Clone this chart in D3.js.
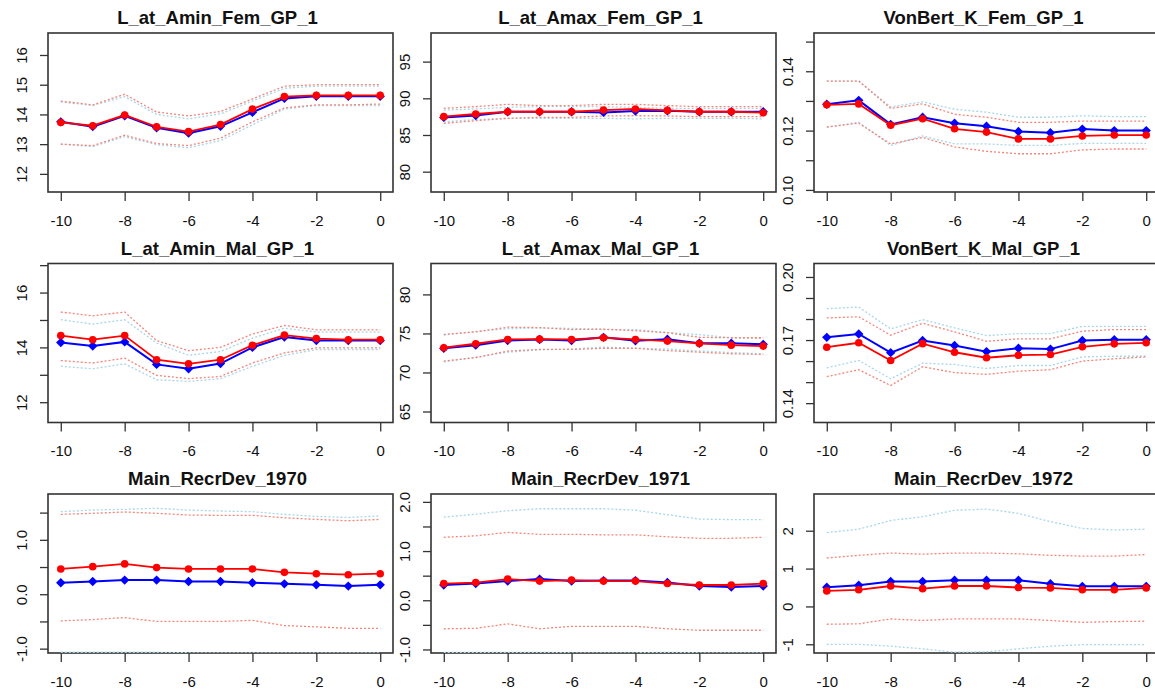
<!DOCTYPE html>
<html lang="en">
<head>
  <meta charset="utf-8">
  <title>Retrospective parameter estimates</title>
  <script src="https://cdn.jsdelivr.net/npm/d3@7"></script>
  <style>
    body { margin: 0; background: #fff; }
    text { font-family: "Liberation Sans", Arial, sans-serif; fill: #111; }
  </style>
</head>
<body>
  <div id="chart"></div>
  <script>
    // peel (years back) on the x axis
    var years = [-10, -9, -8, -7, -6, -5, -4, -3, -2, -1, 0];
    var xTicks = [-10, -8, -6, -4, -2, 0];
    var xTickLabels = ["-10", "-8", "-6", "-4", "-2", "0"];

    // L_at_Amin_Fem_GP_1
    var aminFemRed    = [13.73, 13.62, 13.98, 13.58, 13.42, 13.66, 14.18, 14.60, 14.64, 14.64, 14.64];
    var aminFemBlue   = [13.75, 13.59, 13.95, 13.55, 13.37, 13.60, 14.07, 14.54, 14.61, 14.61, 14.61];
    var aminFemRedHi  = [14.45, 14.32, 14.68, 14.08, 13.95, 14.10, 14.52, 14.95, 15.00, 15.00, 15.00];
    var aminFemRedLo  = [13.00, 12.95, 13.30, 13.02, 12.95, 13.20, 13.75, 14.22, 14.32, 14.32, 14.35];
    var aminFemBlueHi = [14.42, 14.30, 14.60, 14.00, 13.85, 14.02, 14.45, 14.88, 14.95, 14.95, 14.95];
    var aminFemBlueLo = [13.00, 12.92, 13.25, 12.98, 12.88, 13.12, 13.65, 14.18, 14.30, 14.30, 14.30];
    var aminFemTicks  = [12, 13, 14, 15, 16];
    var aminFemLabels = ["12", "13", "14", "15", "16"];

    // L_at_Amax_Fem_GP_1
    var amaxFemRed    = [87.50, 87.86, 88.17, 88.17, 88.17, 88.40, 88.54, 88.35, 88.17, 88.17, 88.04];
    var amaxFemBlue   = [87.40, 87.65, 88.17, 88.17, 88.17, 88.08, 88.26, 88.30, 88.17, 88.17, 88.17];
    var amaxFemRedHi  = [88.64, 88.86, 89.18, 89.00, 89.00, 89.18, 89.18, 89.00, 88.86, 88.86, 88.86];
    var amaxFemRedLo  = [86.59, 86.95, 87.27, 87.40, 87.40, 87.59, 87.63, 87.59, 87.50, 87.50, 87.50];
    var amaxFemBlueHi = [88.40, 88.54, 88.77, 88.86, 88.86, 88.86, 88.77, 88.63, 88.63, 88.63, 88.63];
    var amaxFemBlueLo = [86.80, 87.10, 87.27, 87.27, 87.27, 87.27, 87.20, 87.27, 87.27, 87.27, 87.20];
    var amaxFemTicks  = [80, 85, 90, 95];
    var amaxFemLabels = ["80", "85", "90", "95"];

    // VonBert_K_Fem_GP_1
    var vbFemRed    = [0.1287, 0.1290, 0.1218, 0.1240, 0.1206, 0.1195, 0.1172, 0.1172, 0.1182, 0.1185, 0.1185];
    var vbFemBlue   = [0.1289, 0.1302, 0.1221, 0.1245, 0.1225, 0.1215, 0.1197, 0.1193, 0.1205, 0.1200, 0.1200];
    var vbFemRedHi  = [0.1367, 0.1367, 0.1275, 0.1290, 0.1255, 0.1245, 0.1228, 0.1228, 0.1232, 0.1232, 0.1232];
    var vbFemRedLo  = [0.1212, 0.1225, 0.1155, 0.1177, 0.1145, 0.1130, 0.1122, 0.1122, 0.1135, 0.1138, 0.1138];
    var vbFemBlueHi = [0.1367, 0.1367, 0.1280, 0.1297, 0.1272, 0.1262, 0.1245, 0.1245, 0.1250, 0.1247, 0.1247];
    var vbFemBlueLo = [0.1212, 0.1228, 0.1150, 0.1182, 0.1155, 0.1155, 0.1150, 0.1150, 0.1157, 0.1157, 0.1157];
    var vbFemTicks  = [0.10, 0.11, 0.12, 0.13, 0.14, 0.15];
    var vbFemLabels = ["0.10", "", "0.12", "", "0.14", ""];

    // L_at_Amin_Mal_GP_1
    var aminMalRed    = [14.43, 14.28, 14.43, 13.55, 13.40, 13.55, 14.08, 14.45, 14.32, 14.28, 14.28];
    var aminMalBlue   = [14.18, 14.05, 14.20, 13.38, 13.22, 13.41, 14.00, 14.38, 14.25, 14.25, 14.25];
    var aminMalRedHi  = [15.29, 15.15, 15.29, 14.25, 13.88, 14.00, 14.49, 14.80, 14.64, 14.64, 14.64];
    var aminMalRedLo  = [13.52, 13.43, 13.61, 12.98, 12.86, 12.94, 13.43, 13.80, 13.98, 13.98, 13.98];
    var aminMalBlueHi = [15.01, 14.85, 15.01, 14.16, 13.71, 13.85, 14.34, 14.70, 14.56, 14.56, 14.56];
    var aminMalBlueLo = [13.31, 13.22, 13.40, 12.82, 12.76, 12.86, 13.31, 13.71, 13.92, 13.92, 13.92];
    var aminMalTicks  = [12, 13, 14, 15, 16, 17];
    var aminMalLabels = ["12", "", "14", "", "16", ""];

    // L_at_Amax_Mal_GP_1
    var amaxMalRed    = [73.17, 73.68, 74.23, 74.27, 74.23, 74.45, 74.23, 74.02, 73.72, 73.50, 73.38];
    var amaxMalBlue   = [73.10, 73.50, 74.10, 74.23, 74.10, 74.50, 74.05, 74.25, 73.75, 73.75, 73.60];
    var amaxMalRedHi  = [74.87, 75.20, 75.80, 75.75, 75.50, 75.55, 75.35, 75.10, 74.50, 74.45, 74.45];
    var amaxMalRedLo  = [71.46, 71.90, 72.74, 72.95, 72.95, 73.10, 73.10, 72.80, 72.60, 72.40, 72.30];
    var amaxMalBlueHi = [74.80, 75.25, 75.60, 75.70, 75.65, 75.50, 75.50, 75.10, 74.85, 74.45, 74.35];
    var amaxMalBlueLo = [71.35, 71.95, 72.60, 72.90, 73.00, 73.25, 73.10, 73.00, 72.75, 72.55, 72.40];
    var amaxMalTicks  = [65, 70, 75, 80];
    var amaxMalLabels = ["65", "70", "75", "80"];

    // VonBert_K_Mal_GP_1
    var vbMalRed    = [0.1666, 0.1687, 0.1603, 0.1683, 0.1642, 0.1616, 0.1628, 0.1631, 0.1668, 0.1682, 0.1687];
    var vbMalBlue   = [0.1713, 0.1729, 0.1640, 0.1698, 0.1674, 0.1645, 0.1661, 0.1657, 0.1698, 0.1702, 0.1702];
    var vbMalRedHi  = [0.1805, 0.1811, 0.1723, 0.1780, 0.1739, 0.1694, 0.1706, 0.1706, 0.1742, 0.1750, 0.1750];
    var vbMalRedLo  = [0.1526, 0.1559, 0.1484, 0.1573, 0.1545, 0.1537, 0.1552, 0.1559, 0.1600, 0.1611, 0.1620];
    var vbMalBlueHi = [0.1849, 0.1857, 0.1753, 0.1797, 0.1758, 0.1721, 0.1731, 0.1731, 0.1765, 0.1765, 0.1765];
    var vbMalBlueLo = [0.1568, 0.1603, 0.1516, 0.1590, 0.1584, 0.1565, 0.1579, 0.1579, 0.1620, 0.1623, 0.1623];
    var vbMalTicks  = [0.14, 0.15, 0.16, 0.17, 0.18, 0.19, 0.20];
    var vbMalLabels = ["0.14", "", "", "0.17", "", "", "0.20"];

    // Main_RecrDev_1970
    var rec70Red    = [0.465, 0.507, 0.557, 0.489, 0.465, 0.465, 0.465, 0.402, 0.377, 0.359, 0.377];
    var rec70Blue   = [0.210, 0.234, 0.260, 0.260, 0.234, 0.234, 0.210, 0.191, 0.173, 0.149, 0.173];
    var rec70RedHi  = [1.468, 1.487, 1.511, 1.487, 1.455, 1.450, 1.450, 1.405, 1.375, 1.350, 1.375];
    var rec70RedLo  = [-0.490, -0.465, -0.430, -0.500, -0.500, -0.500, -0.480, -0.576, -0.600, -0.626, -0.626];
    var rec70BlueHi = [1.517, 1.548, 1.560, 1.580, 1.545, 1.530, 1.517, 1.468, 1.430, 1.410, 1.440];
    var rec70BlueLo = [-1.066, -1.066, -1.066, -1.066, -1.076, -1.076, -1.076, -1.076, -1.076, -1.076, -1.076];
    var rec70Ticks  = [-1, -0.5, 0, 0.5, 1, 1.5];
    var rec70Labels = ["-1.0", "", "0.0", "", "1.0", ""];

    // Main_RecrDev_1971
    var rec71Red    = [0.34, 0.36, 0.43, 0.39, 0.41, 0.39, 0.39, 0.34, 0.31, 0.31, 0.34];
    var rec71Blue   = [0.31, 0.34, 0.39, 0.43, 0.39, 0.40, 0.40, 0.36, 0.29, 0.27, 0.29];
    var rec71RedHi  = [1.28, 1.31, 1.38, 1.34, 1.34, 1.33, 1.33, 1.29, 1.26, 1.26, 1.28];
    var rec71RedLo  = [-0.58, -0.57, -0.48, -0.58, -0.53, -0.53, -0.53, -0.58, -0.61, -0.61, -0.61];
    var rec71BlueHi = [1.69, 1.75, 1.82, 1.86, 1.86, 1.86, 1.83, 1.74, 1.65, 1.64, 1.64];
    var rec71BlueLo = [-1.058, -1.058, -1.058, -1.058, -1.068, -1.068, -1.068, -1.058, -1.068, -1.068, -1.068];
    var rec71Ticks  = [-1, -0.5, 0, 0.5, 1, 1.5, 2];
    var rec71Labels = ["-1.0", "", "0.0", "", "1.0", "", "2.0"];

    // Main_RecrDev_1972
    var rec72Red    = [0.41, 0.44, 0.54, 0.47, 0.54, 0.54, 0.50, 0.49, 0.44, 0.44, 0.49];
    var rec72Blue   = [0.51, 0.56, 0.66, 0.66, 0.69, 0.69, 0.69, 0.60, 0.53, 0.53, 0.53];
    var rec72RedHi  = [1.28, 1.35, 1.41, 1.38, 1.41, 1.41, 1.39, 1.35, 1.33, 1.33, 1.37];
    var rec72RedLo  = [-0.47, -0.46, -0.33, -0.37, -0.33, -0.33, -0.33, -0.37, -0.42, -0.40, -0.39];
    var rec72BlueHi = [1.95, 2.04, 2.27, 2.37, 2.54, 2.57, 2.46, 2.24, 2.06, 2.02, 2.04];
    var rec72BlueLo = [-1.00, -1.00, -1.05, -1.12, -1.21, -1.20, -1.12, -1.05, -1.01, -1.01, -1.01];
    var rec72Ticks  = [-1, 0, 1, 2];
    var rec72Labels = ["-1", "0", "1", "2"];

    var panels = [
      {title: "L_at_Amin_Fem_GP_1", ylim: [11.39, 16.74], ticks: aminFemTicks, labels: aminFemLabels,
       red: aminFemRed, blue: aminFemBlue, redHi: aminFemRedHi, redLo: aminFemRedLo, blueHi: aminFemBlueHi, blueLo: aminFemBlueLo},
      {title: "L_at_Amax_Fem_GP_1", ylim: [77.23, 98.9], ticks: amaxFemTicks, labels: amaxFemLabels,
       red: amaxFemRed, blue: amaxFemBlue, redHi: amaxFemRedHi, redLo: amaxFemRedLo, blueHi: amaxFemBlueHi, blueLo: amaxFemBlueLo},
      {title: "VonBert_K_Fem_GP_1", ylim: [0.0993, 0.1529], ticks: vbFemTicks, labels: vbFemLabels,
       red: vbFemRed, blue: vbFemBlue, redHi: vbFemRedHi, redLo: vbFemRedLo, blueHi: vbFemBlueHi, blueLo: vbFemBlueLo},
      {title: "L_at_Amin_Mal_GP_1", ylim: [11.26, 17.06], ticks: aminMalTicks, labels: aminMalLabels,
       red: aminMalRed, blue: aminMalBlue, redHi: aminMalRedHi, redLo: aminMalRedLo, blueHi: aminMalBlueHi, blueLo: aminMalBlueLo},
      {title: "L_at_Amax_Mal_GP_1", ylim: [63.59, 83.96], ticks: amaxMalTicks, labels: amaxMalLabels,
       red: amaxMalRed, blue: amaxMalBlue, redHi: amaxMalRedHi, redLo: amaxMalRedLo, blueHi: amaxMalBlueHi, blueLo: amaxMalBlueLo},
      {title: "VonBert_K_Mal_GP_1", ylim: [0.1308, 0.2064], ticks: vbMalTicks, labels: vbMalLabels,
       red: vbMalRed, blue: vbMalBlue, redHi: vbMalRedHi, redLo: vbMalRedLo, blueHi: vbMalBlueHi, blueLo: vbMalBlueLo},
      {title: "Main_RecrDev_1970", ylim: [-1.08, 1.842], ticks: rec70Ticks, labels: rec70Labels,
       red: rec70Red, blue: rec70Blue, redHi: rec70RedHi, redLo: rec70RedLo, blueHi: rec70BlueHi, blueLo: rec70BlueLo},
      {title: "Main_RecrDev_1971", ylim: [-1.072, 2.16], ticks: rec71Ticks, labels: rec71Labels,
       red: rec71Red, blue: rec71Blue, redHi: rec71RedHi, redLo: rec71RedLo, blueHi: rec71BlueHi, blueLo: rec71BlueLo},
      {title: "Main_RecrDev_1972", ylim: [-1.23, 2.97], ticks: rec72Ticks, labels: rec72Labels,
       red: rec72Red, blue: rec72Blue, redHi: rec72RedHi, redLo: rec72RedLo, blueHi: rec72BlueHi, blueLo: rec72BlueLo}
    ];

    var w = 1155, h = 692;
    var colLeft = [48, 431, 814],
        rowTop = [33, 263.5, 494],
        plotW = 345,
        plotH = 159;

    var svg = d3.select("#chart")
      .append("svg")
      .attr("width", w)
      .attr("height", h);

    svg.append("rect").attr("width", w).attr("height", h).attr("fill", "#fff");

    panels.forEach(function(p, i) {
      var col = i % 3, row = Math.floor(i / 3);
      var g = svg.append("g")
        .attr("transform", "translate(" + colLeft[col] + "," + rowTop[row] + ")");

      var x = d3.scaleLinear().domain([-10.4, 0.4]).range([0, plotW]);
      var y = d3.scaleLinear().domain(p.ylim).range([plotH, 0]);

      // title
      g.append("text")
        .attr("x", plotW / 2 - 3)
        .attr("y", -9)
        .attr("text-anchor", "middle")
        .attr("font-size", 18.5)
        .attr("font-weight", "bold")
        .text(p.title);

      // x axis
      var xa = g.append("g")
        .attr("transform", "translate(0," + plotH + ")")
        .call(d3.axisBottom(x).tickValues(xTicks)
          .tickFormat(function(d, j) { return xTickLabels[j]; })
          .tickSize(9).tickSizeOuter(0).tickPadding(14));
      xa.select(".domain").remove();
      xa.selectAll("line").attr("stroke", "#333").attr("stroke-width", 1.3);
      xa.selectAll("text").attr("font-size", 15).attr("font-family", null).attr("fill", "#111");

      // y axis, labels rotated like base R
      var ya = g.append("g")
        .call(d3.axisLeft(y).tickValues(p.ticks)
          .tickFormat(function(d, j) { return p.labels[j]; })
          .tickSize(8).tickSizeOuter(0));
      ya.select(".domain").remove();
      ya.selectAll("line").attr("stroke", "#333").attr("stroke-width", 1.3);
      ya.selectAll("text")
        .attr("font-size", 15).attr("font-family", null).attr("fill", "#111")
        .attr("transform", "rotate(-90)")
        .attr("x", 0).attr("y", -21).attr("dy", null)
        .attr("text-anchor", "middle");

      // box
      g.append("rect")
        .attr("width", plotW).attr("height", plotH)
        .attr("fill", "none").attr("stroke", "#333").attr("stroke-width", 1.6);

      var clipId = "clip" + i;
      g.append("clipPath").attr("id", clipId)
        .append("rect").attr("x", -1).attr("y", 0).attr("width", plotW + 2).attr("height", plotH);

      var inner = g.append("g").attr("clip-path", "url(#" + clipId + ")");

      var line = d3.line()
        .x(function(d, j) { return x(years[j]); })
        .y(function(d) { return y(d); });

      // interval bounds
      [[p.blueHi, "#a9d6e8"], [p.blueLo, "#a9d6e8"], [p.redHi, "#f3857b"], [p.redLo, "#f3857b"]]
        .forEach(function(b) {
          inner.append("path")
            .attr("d", line(b[0]))
            .attr("fill", "none")
            .attr("stroke", b[1])
            .attr("stroke-width", 1.3)
            .attr("stroke-dasharray", "2,2");
        });

      // blue series
      inner.append("path")
        .attr("d", line(p.blue))
        .attr("fill", "none").attr("stroke", "#0000ff").attr("stroke-width", 2);
      inner.selectAll(".pt-blue")
        .data(p.blue)
        .enter()
        .append("path")
        .attr("class", "pt-blue")
        .attr("d", d3.symbol().type(d3.symbolSquare).size(44))
        .attr("transform", function(d, j) { return "translate(" + x(years[j]) + "," + y(d) + ") rotate(45)"; })
        .attr("fill", "#0000ff");

      // red series
      inner.append("path")
        .attr("d", line(p.red))
        .attr("fill", "none").attr("stroke", "#ff0000").attr("stroke-width", 1.8);
      inner.selectAll(".pt-red")
        .data(p.red)
        .enter()
        .append("circle")
        .attr("class", "pt-red")
        .attr("cx", function(d, j) { return x(years[j]); })
        .attr("cy", function(d) { return y(d); })
        .attr("r", 3.8)
        .attr("fill", "#ff0000");
    });
  </script>
</body>
</html>
